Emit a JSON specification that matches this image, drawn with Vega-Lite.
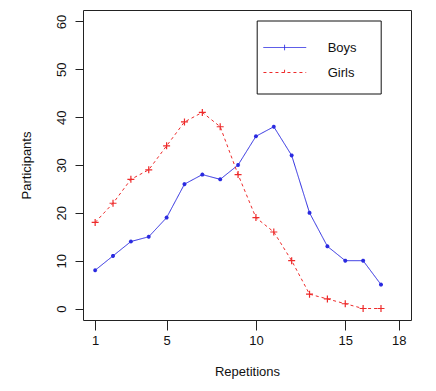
{
  "$schema": "https://vega.github.io/schema/vega-lite/v6.json",
  "width": 328,
  "height": 310,
  "autosize": {"type": "none"},
  "padding": {"left": 83, "top": 10, "right": 25, "bottom": 71},
  "background": "white",
  "config": {
    "font": "Liberation Sans",
    "view": {"stroke": "#222222", "strokeWidth": 1},
    "axis": {"grid": false, "domain": false, "tickColor": "#222222", "labelColor": "#111111", "titleColor": "#111111", "labelFont": "Liberation Sans", "titleFont": "Liberation Sans", "labelFontSize": 13, "titleFontSize": 13, "titleFontWeight": "normal"}
  },
  "data": {"values": [
    {"rep": 1, "series": "Boys", "n": 8},
    {"rep": 2, "series": "Boys", "n": 11},
    {"rep": 3, "series": "Boys", "n": 14},
    {"rep": 4, "series": "Boys", "n": 15},
    {"rep": 5, "series": "Boys", "n": 19},
    {"rep": 6, "series": "Boys", "n": 26},
    {"rep": 7, "series": "Boys", "n": 28},
    {"rep": 8, "series": "Boys", "n": 27},
    {"rep": 9, "series": "Boys", "n": 30},
    {"rep": 10, "series": "Boys", "n": 36},
    {"rep": 11, "series": "Boys", "n": 38},
    {"rep": 12, "series": "Boys", "n": 32},
    {"rep": 13, "series": "Boys", "n": 20},
    {"rep": 14, "series": "Boys", "n": 13},
    {"rep": 15, "series": "Boys", "n": 10},
    {"rep": 16, "series": "Boys", "n": 10},
    {"rep": 17, "series": "Boys", "n": 5},
    {"rep": 1, "series": "Girls", "n": 18},
    {"rep": 2, "series": "Girls", "n": 22},
    {"rep": 3, "series": "Girls", "n": 27},
    {"rep": 4, "series": "Girls", "n": 29},
    {"rep": 5, "series": "Girls", "n": 34},
    {"rep": 6, "series": "Girls", "n": 39},
    {"rep": 7, "series": "Girls", "n": 41},
    {"rep": 8, "series": "Girls", "n": 38},
    {"rep": 9, "series": "Girls", "n": 28},
    {"rep": 10, "series": "Girls", "n": 19},
    {"rep": 11, "series": "Girls", "n": 16},
    {"rep": 12, "series": "Girls", "n": 10},
    {"rep": 13, "series": "Girls", "n": 3},
    {"rep": 14, "series": "Girls", "n": 2},
    {"rep": 15, "series": "Girls", "n": 1},
    {"rep": 16, "series": "Girls", "n": 0},
    {"rep": 17, "series": "Girls", "n": 0}
  ]},
  "encoding": {
    "x": {
      "field": "rep", "type": "quantitative",
      "scale": {"domain": [0.32, 18.68], "nice": false, "zero": false},
      "axis": {"values": [1, 5, 10, 15, 18], "tickSize": 10, "labelPadding": 4, "labelBaseline": "top", "title": "Repetitions", "titleX": 164, "titleY": 51, "titleBaseline": "middle", "titleAlign": "center"}
    },
    "y": {
      "field": "n", "type": "quantitative",
      "scale": {"domain": [-2.4, 62.4], "nice": false, "zero": false},
      "axis": {"values": [0, 10, 20, 30, 40, 50, 60], "tickSize": 8, "labelAngle": 270, "labelAlign": "center", "labelBaseline": "bottom", "labelPadding": 7, "title": "Participants", "titleAngle": 270, "titleX": -57, "titleY": 155, "titleBaseline": "middle", "titleAlign": "center"}
    }
  },
  "layer": [
    {
      "mark": {"type": "line", "strokeWidth": 1},
      "encoding": {
        "color": {
          "field": "series", "type": "nominal",
          "scale": {"domain": ["Boys", "Girls"], "range": ["#2a2ae0", "#ee2a2a"]},
          "legend": {"orient": "none", "legendX": 173.7, "legendY": 10.5, "title": null, "padding": 14, "strokeColor": "#111111", "fillColor": "white", "symbolType": "M-1.62,0H1.8M0.07,-0.22V0.22", "symbolSize": 625, "symbolStrokeWidth": 1, "symbolFillColor": "transparent", "labelOffset": 31, "labelFontSize": 13, "labelFont": "Liberation Sans", "labelColor": "#111111", "labelExpr": "datum.label + '\u2800'", "rowPadding": 5, "encode": {"symbols": {"update": {"stroke": {"scale": "color", "field": "value"}}}}}
        },
        "strokeDash": {
          "field": "series", "type": "nominal",
          "scale": {"domain": ["Boys", "Girls"], "range": [[1, 0], [3, 3]]},
          "legend": {"orient": "none", "legendX": 173.7, "legendY": 10.5, "title": null, "padding": 14, "strokeColor": "#111111", "fillColor": "white", "symbolType": "M-1.62,0H1.8M0.07,-0.22V0.22", "symbolSize": 625, "symbolStrokeWidth": 1, "symbolFillColor": "transparent", "labelOffset": 31, "labelFontSize": 13, "labelFont": "Liberation Sans", "labelColor": "#111111", "labelExpr": "datum.label + '\u2800'", "rowPadding": 5, "encode": {"symbols": {"update": {"stroke": {"scale": "color", "field": "value"}}}}}
        }
      }
    },
    {
      "transform": [{"filter": "datum.series === 'Boys'"}],
      "mark": {"type": "point", "filled": false, "stroke": "#2a2ae0", "strokeWidth": 1.2, "opacity": 1, "size": 16, "shape": "M-1,0H1M0,-1V1M-0.7,-0.7L0.7,0.7M-0.7,0.7L0.7,-0.7"}
    },
    {
      "transform": [{"filter": "datum.series === 'Girls'"}],
      "mark": {"type": "point", "filled": false, "stroke": "#ee2a2a", "strokeWidth": 1.2, "opacity": 1, "size": 49, "shape": "M-1,0H1M0,-1V1"}
    }
  ]
}
